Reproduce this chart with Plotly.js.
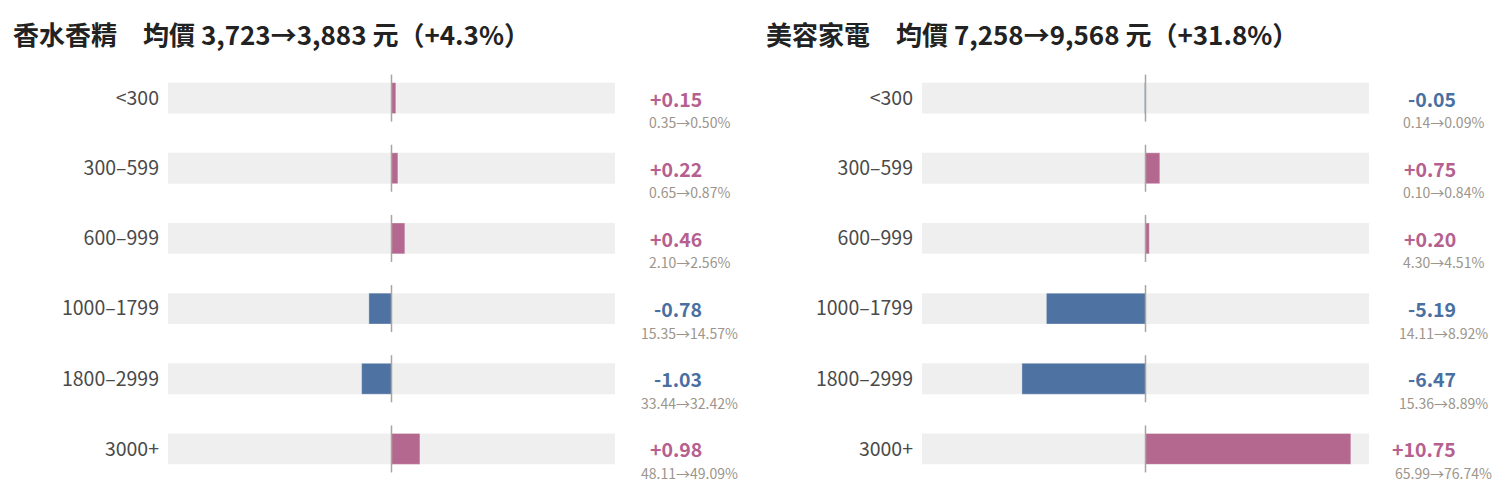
<!DOCTYPE html>
<html>
<head>
<meta charset="utf-8">
<script src="https://cdn.plot.ly/plotly-3.0.1.min.js"></script>
<style>
  html, body { margin: 0; padding: 0; background: #fff; }
  #graph { width: 1500px; height: 498px; }
</style>
</head>
<body>
<div id="graph"></div>
<script>
var cats = ['<300', '300–599', '600–999', '1000–1799', '1800–2999', '3000+'];

// 香水香精
var perfumeBefore = [0.35, 0.65, 2.10, 15.35, 33.44, 48.11];
var perfumeAfter  = [0.50, 0.87, 2.56, 14.57, 32.42, 49.09];
var perfumeDelta  = [0.15, 0.22, 0.46, -0.78, -1.03, 0.98];
var perfumeTitle  = '香水香精　均價 3,723→3,883 元（+4.3%）';

// 美容家電
var applianceBefore = [0.14, 0.10, 4.30, 14.11, 15.36, 65.99];
var applianceAfter  = [0.09, 0.84, 4.51, 8.92, 8.89, 76.74];
var applianceDelta  = [-0.05, 0.75, 0.20, -5.19, -6.47, 10.75];
var applianceTitle  = '美容家電　均價 7,258→9,568 元（+31.8%）';

var font = '"Noto Sans CJK TC", "Noto Sans", sans-serif';
var pink = '#b5688f', blue = '#4e72a1';
var pinkText = '#b5608f', blueText = '#4a6fa1';

function fmt(v) {
  return (v > 0 ? '+' : '') + v.toFixed(2);
}

function barTrace(delta, xa, ya) {
  return {
    type: 'bar',
    orientation: 'h',
    x: delta,
    y: cats,
    xaxis: xa,
    yaxis: ya,
    width: 0.44,
    marker: {
      color: delta.map(function (d) { return d >= 0 ? pink : blue; }),
      line: { color: 'rgba(255,255,255,0.35)', width: 1 }
    },
    hoverinfo: 'skip'
  };
}

var shapes = [];
var annotations = [];

function addPanel(suffix, delta, before, after) {
  var xr = 'x' + suffix, yr = 'y' + suffix;
  cats.forEach(function (c, i) {
    // gray track
    shapes.push({
      type: 'rect', layer: 'below',
      xref: xr + ' domain', x0: 0, x1: 1,
      yref: yr, y0: i - 0.22, y1: i + 0.22,
      fillcolor: '#efefef', line: { width: 0 }
    });
    // zero line
    shapes.push({
      type: 'line', layer: 'above',
      xref: xr, x0: 0, x1: 0,
      yref: yr, y0: i - 0.335, y1: i + 0.335,
      line: { color: '#a9a49c', width: 1.5 }
    });
    annotations.push({
      xref: xr + ' domain', x: 1 + 89 / 447, xanchor: 'right',
      yref: yr, y: c, yanchor: 'middle',
      text: '<b>' + fmt(delta[i]) + '</b>', showarrow: false,
      font: { family: font, size: 19.5, color: delta[i] >= 0 ? pinkText : blueText }
    });
    annotations.push({
      xref: xr + ' domain', x: 1 + 74 / 447, xanchor: 'center',
      yref: yr, y: c, yanchor: 'middle', yshift: -24,
      text: before[i].toFixed(2) + '→' + after[i].toFixed(2) + '%', showarrow: false,
      font: { family: font, size: 14, color: '#9c958b' }
    });
  });
}

addPanel('', perfumeDelta, perfumeBefore, perfumeAfter);
addPanel('2', applianceDelta, applianceBefore, applianceAfter);

annotations.push({
  xref: 'paper', x: 11 / 1500, xanchor: 'left',
  yref: 'paper', y: 1.07, yanchor: 'middle',
  text: '<b>' + perfumeTitle + '</b>', showarrow: false,
  font: { family: font, size: 26, color: '#222' }
});
annotations.push({
  xref: 'paper', x: 764 / 1500, xanchor: 'left',
  yref: 'paper', y: 1.07, yanchor: 'middle',
  text: '<b>' + applianceTitle + '</b>', showarrow: false,
  font: { family: font, size: 26, color: '#222' }
});

var yax = {
  type: 'category',
  categoryarray: cats,
  range: [5.5, -0.5],
  showgrid: false,
  zeroline: false,
  showline: false,
  ticks: '',
  ticklabelstandoff: 8,
  tickfont: { family: font, size: 19.5, color: '#4a4a4a' },
  fixedrange: true
};

var layout = {
  width: 1500,
  height: 498,
  margin: { l: 0, r: 0, t: 63, b: 14 },
  paper_bgcolor: '#fff',
  plot_bgcolor: 'rgba(0,0,0,0)',
  showlegend: false,
  bargap: 0,
  font: { family: font },
  xaxis: { domain: [168 / 1500, 615 / 1500], range: [-7.7, 7.7], visible: false, fixedrange: true },
  xaxis2: { domain: [922 / 1500, 1369 / 1500], range: [-11.7, 11.7], visible: false, fixedrange: true },
  yaxis: Object.assign({}, yax, { anchor: 'x' }),
  yaxis2: Object.assign({}, yax, { anchor: 'x2' }),
  shapes: shapes,
  annotations: annotations
};

Plotly.newPlot('graph', [
  barTrace(perfumeDelta, 'x', 'y'),
  barTrace(applianceDelta, 'x2', 'y2')
], layout, { displayModeBar: false, staticPlot: true });
</script>
</body>
</html>
